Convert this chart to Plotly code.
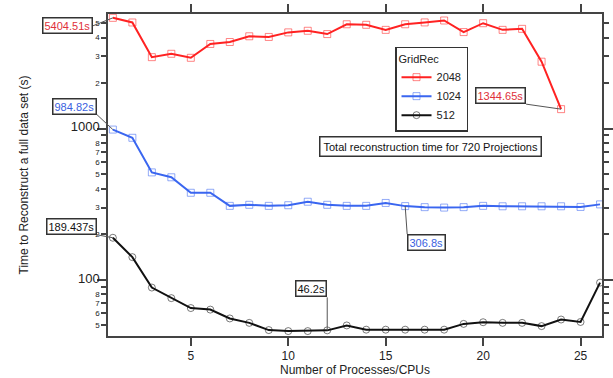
import numpy as np
import plotly.graph_objects as go

procs = list(range(1, 27))
t2048 = [5404.51, 5035, 2969, 3125, 2940, 3630, 3740, 4080, 4040, 4330, 4437, 4220,
         4900, 4860, 4500, 4900, 5040, 5190, 4350, 4980, 4500, 4570, 2770, 1344.65]
t1024 = [984.82, 869, 513, 476, 376, 376, 308, 313, 308, 311, 328, 313, 308, 308,
         322, 306.8, 302, 300, 302, 308, 306, 306, 306, 306, 303, 315]
t512 = [189.437, 141, 88.7, 75.5, 64.9, 63.4, 55.4, 51.8, 46.4, 45.7, 45.7, 46.2,
        49.8, 46.7, 46.7, 46.7, 46.7, 46.7, 51.0, 52.3, 51.8, 51.8, 49.3, 54.5, 52.5, 95.6]

series_names = ["2048", "1024", "512"]
series_colors = ["#ff2222", "#3a66f0", "#111111"]

ytick_vals = [50, 60, 70, 80, 90, 100, 200, 300, 400, 500, 600, 700, 800, 900, 1000,
              2000, 3000, 4000, 5000]
ytick_text = ["5", "6", "7", "8", "", "100", "2", "3", "4", "5", "6", "7", "8", "", "1000",
              "2", "3", "4", "5"]
xtick_vals = [5, 10, 15, 20, 25]

FONT = "Liberation Sans, Arial, sans-serif"

def ytxt(t):
    if t in ("100", "1000"):
        return '<span style="font-size:13px">%s</span>' % t
    return t

fig = go.Figure()
for name, col, ys, sym in [("2048", series_colors[0], t2048, "square-open"),
                           ("1024", series_colors[1], t1024, "square-open"),
                           ("512", series_colors[2], t512, "circle-open")]:
    fig.add_trace(go.Scatter(
        x=procs[:len(ys)], y=ys, mode="lines+markers", name=name,
        line=dict(color=col, width=2),
        marker=dict(symbol=sym, size=7, color=col, opacity=0.55, line=dict(width=1, color=col)),
    ))

def tag(x, y, text, color, ax, ay, xa, ya):
    fig.add_annotation(x=x, y=np.log10(y), text=text, showarrow=True, arrowhead=0,
                       arrowwidth=1, arrowcolor="#555555", ax=ax, ay=ay,
                       xanchor=xa, yanchor=ya,
                       font=dict(family=FONT, size=11, color=color),
                       bordercolor="#333333", borderwidth=1.5, borderpad=1,
                       bgcolor="white")

tag(1, t2048[0], "5404.51s", "#e0303a", -20, 8, "right", "middle")
tag(1, t1024[0], "984.82s", "#3a5fe0", -16, -15, "right", "bottom")
tag(1, t512[0], "189.437s", "#111111", -16, -3, "right", "bottom")
tag(12, t512[11], "46.2s", "#111111", 0, -33, "right", "bottom")
tag(16, t1024[15], "306.8s", "#3a5fe0", 2, 28, "left", "top")
tag(24, t2048[23], "1344.65s", "#e0303a", -35, -5, "right", "bottom")

fig.add_annotation(x=0.653, y=0.588, xref="paper", yref="paper", showarrow=False,
                   text="Total reconstruction time for 720 Projections",
                   font=dict(family=FONT, size=11, color="#111111"),
                   bordercolor="#333333", borderwidth=1.5, borderpad=3, bgcolor="white")

fig.update_layout(
    width=613, height=378,
    margin=dict(l=108, r=4, t=14, b=39),
    paper_bgcolor="white", plot_bgcolor="white",
    font=dict(family=FONT, size=12, color="#222222"),
    showlegend=True,
    legend=dict(x=0.581, y=0.898, xanchor="left", yanchor="top",
                title=dict(text="GridRec", font=dict(size=11)),
                font=dict(size=11), bordercolor="#333333", borderwidth=1.5,
                bgcolor="white", itemwidth=30, tracegroupgap=0,
                itemclick=False),
    xaxis=dict(range=[0.75, 26.1], tickvals=xtick_vals, ticks="outside", ticklen=8,
               tickwidth=1.5, tickcolor="#444444", showline=True, linecolor="#444444",
               linewidth=1.5, mirror="ticks", showgrid=False, zeroline=False,
               tickfont=dict(size=12),
               title=dict(text="Number of Processes/CPUs", font=dict(size=12), standoff=2)),
    yaxis=dict(type="log", range=[np.log10(42.4), np.log10(5730)],
               tickvals=ytick_vals, ticktext=[ytxt(t) for t in ytick_text],
               ticks="outside", ticklen=5, tickwidth=1.5, tickcolor="#444444",
               tickfont=dict(size=8),
               showline=True, linecolor="#444444", linewidth=1.5, mirror="ticks",
               showgrid=False, zeroline=False,
               minor=dict(tickvals=[100, 1000], ticklen=9, tickwidth=1.5,
                          tickcolor="#444444", ticks="outside", showgrid=False),
               title=dict(text="Time to Reconstruct a full data set (s)",
                          font=dict(size=12), standoff=40)),
)

fig.write_html("out.html")
